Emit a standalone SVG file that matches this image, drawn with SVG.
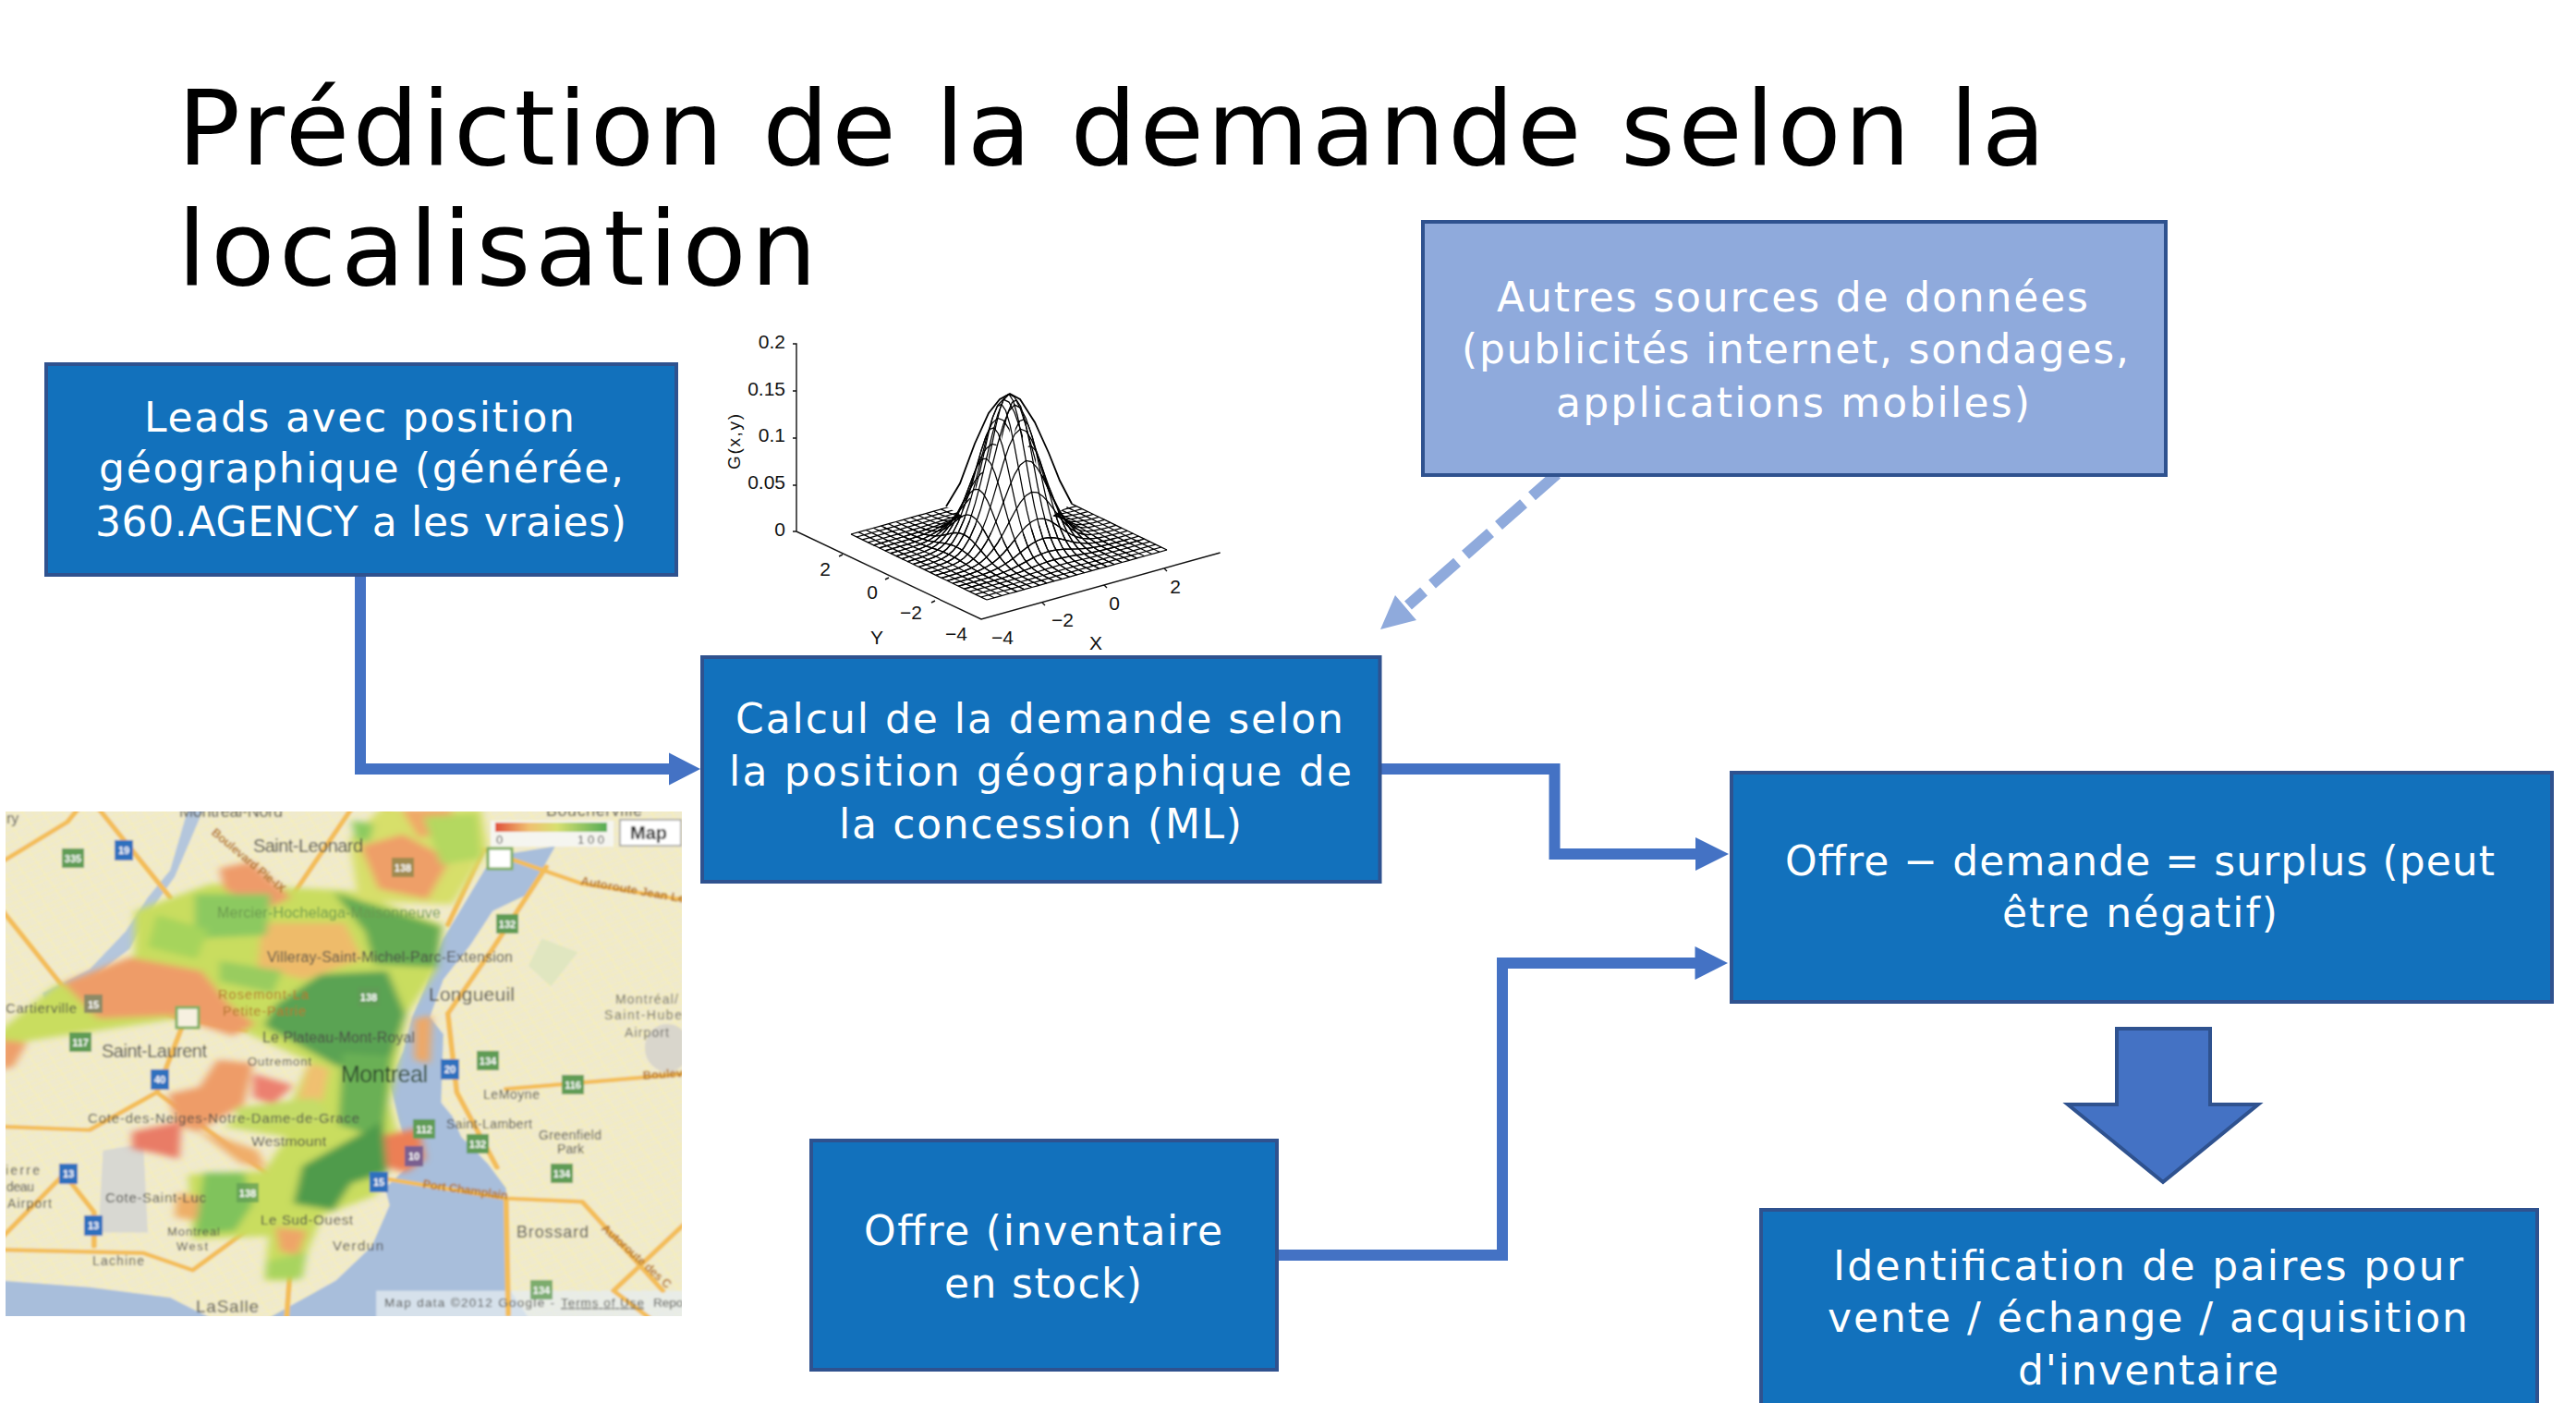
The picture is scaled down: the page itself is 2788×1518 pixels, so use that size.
<svg xmlns="http://www.w3.org/2000/svg" width="2788" height="1518" viewBox="0 0 2788 1518">
<style>
text{font-family:"DejaVu Sans","Noto Sans",sans-serif}
.t{font-size:113px;fill:#000}
.l{font-size:44px;fill:#fff}
.b{fill:#1271bc;stroke:#2f528f;stroke-width:4}
.b2{fill:#8faadc;stroke:#2f528f;stroke-width:4}
.c{fill:none;stroke:#4472c4;stroke-width:12}
.h{fill:#4472c4}
.ax{fill:none;stroke:#111;stroke-width:1.4}
.g text{font-family:"Liberation Sans",Arial,sans-serif}
.n{font-size:21px;fill:#111}
.me{fill:none;stroke:#000;stroke-width:1.25;vector-effect:non-scaling-stroke}
.ml text,text.ml{font-family:"Liberation Sans",Arial,sans-serif;fill:#4c4c48}
.gt{fill:#6c9a50!important}
.or{fill:#b5762a!important;font-weight:bold}
.sg{fill:#5f9c55}
.sb{fill:#2f6fbe}
.sn{font-size:11px;font-weight:bold;fill:#fff!important;text-anchor:middle}
.rd{fill:none;stroke:#f3bd58;stroke-linecap:round;stroke-linejoin:round}
</style>
<defs>
<filter id="bl" x="-5%" y="-5%" width="110%" height="110%"><feGaussianBlur stdDeviation="9"/></filter>
<filter id="bs" x="-2%" y="-2%" width="104%" height="104%"><feGaussianBlur stdDeviation="0.9"/></filter>
<clipPath id="mc"><rect x="6" y="878" width="732" height="546"/></clipPath>
<linearGradient id="lg"><stop offset="0" stop-color="#e0503a"/><stop offset=".3" stop-color="#f0c070"/><stop offset=".55" stop-color="#d8e070"/><stop offset="1" stop-color="#55ac55"/></linearGradient>
<pattern id="gr" width="40" height="40" patternUnits="userSpaceOnUse" patternTransform="rotate(-28)"><path d="M0 0H40M0 14H40M0 27H40M0 0V40M20 0V40" stroke="#f7efae" stroke-width="2.5" fill="none"/></pattern>
<path id="bp" class="me" d="M-1 .0003L-.875 .0022-.75 .0111-.6875 .0228-.625 .0439-.5625 .0796-.5 .1353-.4375 .2163-.375 .3247-.3125 .4578-.25 .6065-.1875 .7548-.125 .8825-.0625 .9692 0 1 .0625 .9692 .125 .8825 .1875 .7548 .25 .6065 .3125 .4578 .375 .3247 .4375 .2163 .5 .1353 .5625 .0796 .625 .0439 .6875 .0228 .75 .0111 .875 .0022 1 .0003"/>
<clipPath id="cm8"><rect x="-1.01" y="-5000" width="1.977" height="10000"/></clipPath>
<clipPath id="cm7"><rect x="-1.01" y="-5000" width="1.893" height="10000"/></clipPath>
<clipPath id="cm6"><rect x="-1.01" y="-5000" width="1.81" height="10000"/></clipPath>
<clipPath id="cm5"><rect x="-1.01" y="-5000" width="1.727" height="10000"/></clipPath>
<clipPath id="cm4"><rect x="-1.01" y="-5000" width="1.643" height="10000"/></clipPath>
<clipPath id="cm3"><rect x="-1.01" y="-5000" width="1.56" height="10000"/></clipPath>
<clipPath id="cm2"><rect x="-1.01" y="-5000" width="1.477" height="10000"/></clipPath>
<clipPath id="cm1"><rect x="-1.01" y="-5000" width="1.393" height="10000"/></clipPath>
<clipPath id="c0"><rect x="-1.01" y="-5000" width="1.31" height="10000"/></clipPath>
<clipPath id="c1"><rect x="-1.01" y="-5000" width="1.227" height="10000"/></clipPath>
<clipPath id="c2"><rect x="-1.01" y="-5000" width="1.143" height="10000"/></clipPath>
<clipPath id="c3"><rect x="-1.01" y="-5000" width="1.06" height="10000"/></clipPath>
<clipPath id="c4"><rect x="-1.01" y="-5000" width=".977" height="10000"/></clipPath>
<clipPath id="c5"><rect x="-1.01" y="-5000" width=".893" height="10000"/></clipPath>
<clipPath id="c6"><rect x="-1.01" y="-5000" width=".81" height="10000"/></clipPath>
<clipPath id="c7"><rect x="-1.01" y="-5000" width=".727" height="10000"/></clipPath>
<clipPath id="c8"><rect x="-1.01" y="-5000" width=".643" height="10000"/></clipPath>
</defs>
<rect width="2788" height="1518" fill="#fff"/>

<g id="title">
<text class="t" x="192" y="178" textLength="2022" lengthAdjust="spacing">Prédiction de la demande selon la</text>
<text class="t" x="192" y="308" textLength="692" lengthAdjust="spacing">localisation</text>
</g>

<g id="map" clip-path="url(#mc)">
<g filter="url(#bs)">
<g transform="translate(0 860) scale(.4847 .37)">
<rect x="0" y="40" width="1540" height="1500" fill="#efe9d0"/>
<rect x="0" y="40" width="1540" height="1500" fill="url(#gr)"/>
<ellipse cx="1490" cy="740" rx="50" ry="70" fill="#d9d6cc"/>
<path d="M230 1040L320 1020 330 1280 220 1280Z" fill="#d8d8d2"/>
<path d="M1210 420L1290 460 1230 560 1180 500Z" fill="#e0e6c0"/>
<path d="M1100 180L1240 150 1180 290 1100 340 1050 440 990 540 960 650 990 700 985 900 1010 940 1030 1000 1090 1080 1130 1150 1135 1440 1180 1530 600 1530 750 1420 830 1320 870 1200 860 1150 900 1100 920 1080 890 950 870 840 900 750 920 650 950 560 990 420Z" fill="#a8bedb"/>
<path d="M420 40L455 40 390 240 330 350 290 450 210 530 100 600 95 580 200 510 280 400 330 300 380 220Z" fill="#b4c6dc"/>
<path d="M0 1420L200 1440 380 1470 470 1530 0 1530Z" fill="#a8bedb"/>
<rect x="840" y="1450" width="700" height="80" fill="#e6ecf0" opacity=".75"/>
<g class="rd" stroke-width="12">
<path d="M12 190L150 80 175 40"/>
<path d="M220 40L380 300"/>
<path d="M785 40L650 300 460 500 400 700 350 870 660 1170 430 1390 320 1340 0 1330"/>
<path d="M0 330L140 560 390 650 550 690"/>
<path d="M850 40L1080 160 1300 260 1540 310"/>
<path d="M1080 160L1000 380"/>
<path d="M0 720L150 590"/>
<path d="M350 870L200 980 0 970"/>
<path d="M150 1120L210 1220 210 1320"/>
<path d="M150 1100L0 1300"/>
<path d="M800 1110L1130 1180 1300 1190 1480 1450"/>
<path d="M1130 1180L1135 1520"/>
<path d="M1000 640L1020 870 1110 1090"/>
<path d="M1130 860L1540 815"/>
<path d="M1540 1240L1370 1450 1450 1530"/>
<path d="M1220 210L1100 450 1000 640"/>
<path d="M640 1530L660 1170"/>
</g>
<g filter="url(#bl)">
<path d="M300 340L470 260 780 280 990 380 975 510 910 640 870 900 890 1000 840 1170 720 1230 660 1420 590 1420 600 1290 430 1300 420 1110 590 1100 640 1000 500 970 560 920 650 900 690 780 540 690 420 650 60 720 0 760 0 690 120 560 300 470Z" fill="#c9dd5e"/>
<path d="M850 40L1075 40 1090 160 1010 320 800 310 780 130Z" fill="#d7df6a"/>
<path d="M585 375L770 375 810 480 680 540 575 505Z" fill="#eebb6a"/>
<path d="M140 550L290 475 450 515 510 610 570 670 520 705 380 645 220 655Z" fill="#ee9c68"/>
<path d="M0 715L60 725 30 795 0 805Z" fill="#ee9f6a"/>
<path d="M490 215L560 195 650 300 590 335 500 275Z" fill="#ee9b6a"/>
<path d="M805 150L900 115 1005 190 955 305 845 275Z" fill="#ee9f68"/>
<path d="M895 40L1005 40 1025 105 935 125Z" fill="#f0a868"/>
<path d="M485 775L565 785 545 905 440 985 395 965 375 875 445 855Z" fill="#ee9c68"/>
<path d="M435 975L575 1040 595 1095 535 1075Z" fill="#f0ad6a"/>
<path d="M565 815L655 850 610 905 565 885Z" fill="#ec8070"/>
<path d="M690 785L735 800 720 895 665 895Z" fill="#f0c070"/>
<path d="M295 985L405 955 400 1065 340 1045 295 1035Z" fill="#e97c66"/>
<path d="M855 995L935 975 950 1065 905 1105 855 1085Z" fill="#ec7f55"/>
<path d="M925 655L965 645 960 785 925 775Z" fill="#eda868"/>
<path d="M395 1165L455 1175 445 1245 390 1235Z" fill="#eeaf68"/>
<path d="M615 1265L685 1275 665 1345 625 1335Z" fill="#eea568"/>
<path d="M435 290L605 290 595 410 435 420Z" fill="#8cc960"/>
<path d="M350 350L465 395 440 480 330 445Z" fill="#a6d45c"/>
<path d="M745 285L985 385 975 505 835 495 815 400Z" fill="#65ab52"/>
<path d="M490 485L630 515 610 580 490 545Z" fill="#99cc5e"/>
<path d="M715 525L865 515 905 640 875 765 755 795 590 675 615 615Z" fill="#5aa352"/>
<path d="M765 755L875 765 855 1005 755 965Z" fill="#6bb054"/>
<path d="M675 1085L855 955 865 1105 785 1135 745 1215 655 1195Z" fill="#4f9b4c"/>
<path d="M455 1105L545 1105 565 1195 525 1275 435 1285Z" fill="#80c35c"/>
<path d="M595 1365L685 1335 675 1415 595 1415Z" fill="#a8d45e"/>
<path d="M525 915L705 885 745 955 535 975Z" fill="#c5dc68"/>
<path d="M785 75L835 85 825 135 795 135Z" fill="#8ccb60"/>
<path d="M945 65L1065 55 1075 185 985 205Z" fill="#b4d860"/>
</g>
</g>
<g class="ml">
<g font-size="18"><text x="194" y="884" textLength="112">Montreal-Nord</text><text x="591" y="883" textLength="104">Boucherville</text></g>
<text x="7" y="891" font-size="16">ry</text>
<text x="274" y="922" font-size="20" textLength="119">Saint-Leonard</text>
<text class="or" transform="translate(228 902) rotate(40)" font-size="13" textLength="100">Boulevard Pie-IX</text>
<text class="gt" x="235" y="993" font-size="16" textLength="242">Mercier-Hochelaga-Maisonneuve</text>
<text x="289" y="1041" font-size="16" textLength="266">Villeray-Saint-Michel-Parc-Extension</text>
<text class="or" x="236" y="1081" font-size="14.5" textLength="98" style="font-weight:normal">Rosemont-La</text>
<text class="or" x="241" y="1099" font-size="14.5" textLength="90" style="font-weight:normal">Petite-Patrie</text>
<text x="464" y="1083" font-size="21" textLength="93">Longueuil</text>
<text x="6" y="1096" font-size="15" textLength="77">Cartierville</text>
<text x="110" y="1144" font-size="20" textLength="114">Saint-Laurent</text>
<text x="284" y="1128" font-size="16" textLength="165">Le Plateau-Mont-Royal</text>
<text x="268" y="1153" font-size="13" textLength="69">Outremont</text>
<text x="369" y="1171" font-size="25" textLength="94" style="fill:#2f4a2f">Montreal</text>
<text x="666" y="1086" font-size="14" textLength="68" opacity=".8">Montréal/</text>
<text x="654" y="1103" font-size="14" textLength="84" opacity=".8">Saint-Hube</text>
<text x="676" y="1122" font-size="14" textLength="48" opacity=".8">Airport</text>
<text x="95" y="1215" font-size="15" textLength="294">Cote-des-Neiges-Notre-Dame-de-Grace</text>
<text x="523" y="1189" font-size="14" textLength="61">LeMoyne</text>
<text x="483" y="1221" font-size="14" textLength="93">Saint-Lambert</text>
<text x="583" y="1233" font-size="14" textLength="68">Greenfield</text>
<text x="603" y="1248" font-size="14" textLength="29">Park</text>
<text x="272" y="1240" font-size="15.5" textLength="81">Westmount</text>
<text x="6" y="1271" font-size="14" textLength="37">ierre</text>
<text x="7" y="1289" font-size="14" textLength="30">deau</text>
<text x="8" y="1307" font-size="14" textLength="48">Airport</text>
<text x="114" y="1301" font-size="15" textLength="109">Cote-Saint-Luc</text>
<text x="282" y="1325" font-size="15" textLength="100">Le Sud-Ouest</text>
<text x="181" y="1337" font-size="13" textLength="57">Montreal</text>
<text x="191" y="1353" font-size="13" textLength="34">West</text>
<text x="360" y="1353" font-size="15" textLength="55">Verdun</text>
<text x="100" y="1369" font-size="14" textLength="56">Lachine</text>
<text x="212" y="1420" font-size="19" textLength="68">LaSalle</text>
<text x="559" y="1339" font-size="18" textLength="78">Brossard</text>
<text class="or" transform="translate(628 957) rotate(10)" font-size="13">Autoroute Jean Le</text>
<text class="or" transform="translate(457 1285) rotate(8)" font-size="13" textLength="93">Port Champlain</text>
<text class="or" transform="translate(650 1330) rotate(42)" font-size="13" textLength="97">Autoroute des C</text>
<text class="or" transform="translate(696 1168) rotate(-4)" font-size="13">Boulev</text>
<text x="416" y="1414" font-size="13.5" textLength="184">Map data ©2012 Google -</text>
<text x="607" y="1414" font-size="13.5" textLength="90" text-decoration="underline">Terms of Use</text>
<text x="707" y="1414" font-size="13.5">Repo</text>
</g>
<g id="shields">
<rect class="sg" x="67" y="918" width="24" height="21"/><text class="ml sn" x="79" y="933">335</text>
<rect class="sg" x="537" y="989" width="24" height="21"/><text class="ml sn" x="549" y="1004">132</text>
<rect class="sg" x="387" y="1068" width="24" height="21"/><text class="ml sn" x="399" y="1083">138</text>
<rect class="sg" x="75" y="1117" width="24" height="21"/><text class="ml sn" x="87" y="1132">117</text>
<rect fill="#8d8a66" x="91" y="1076" width="20" height="20"/><text class="ml sn" x="101" y="1091">15</text>
<rect class="sg" x="516" y="1137" width="24" height="21"/><text class="ml sn" x="528" y="1152">134</text>
<rect class="sg" x="608" y="1163" width="24" height="21"/><text class="ml sn" x="620" y="1178">116</text>
<rect class="sg" x="447" y="1211" width="24" height="21"/><text class="ml sn" x="459" y="1226">112</text>
<rect class="sg" x="505" y="1227" width="24" height="21"/><text class="ml sn" x="517" y="1242">132</text>
<rect class="sg" x="596" y="1259" width="24" height="21"/><text class="ml sn" x="608" y="1274">134</text>
<rect class="sg" x="256" y="1280" width="24" height="21" opacity=".75"/><text class="ml sn" x="268" y="1295">138</text>
<rect class="sg" x="574" y="1385" width="24" height="21" opacity=".8"/><text class="ml sn" x="586" y="1400">134</text>
<rect fill="#a08a50" x="424" y="928" width="24" height="21"/><text class="ml sn" x="436" y="943">138</text>
<rect class="sb" x="124" y="909" width="20" height="22"/><text class="ml sn" x="134" y="924">19</text>
<rect class="sb" x="163" y="1157" width="20" height="22"/><text class="ml sn" x="173" y="1172">40</text>
<rect class="sb" x="477" y="1146" width="20" height="22"/><text class="ml sn" x="487" y="1161">20</text>
<rect class="sb" x="64" y="1259" width="20" height="22"/><text class="ml sn" x="74" y="1274">13</text>
<rect class="sb" x="91" y="1315" width="20" height="22"/><text class="ml sn" x="101" y="1330">13</text>
<rect class="sb" x="400" y="1268" width="20" height="22"/><text class="ml sn" x="410" y="1283">15</text>
<rect fill="#7a5f90" x="438" y="1240" width="20" height="22"/><text class="ml sn" x="448" y="1255">10</text>
<rect x="528" y="918" width="26" height="22" fill="#fff" stroke="#7fae60" stroke-width="3"/>
<rect x="191" y="1090" width="24" height="22" fill="#f6f0e0" stroke="#7fae60" stroke-width="3"/>
</g>
<g id="legend">
<rect x="531" y="888" width="133" height="28" fill="#f5f6f4" opacity=".9"/>
<rect x="536" y="890" width="121" height="10" fill="url(#lg)"/>
<text class="ml" x="537" y="913" font-size="13">0</text>
<text class="ml" x="625" y="913" font-size="13" textLength="29">100</text>
<rect x="671" y="887" width="66" height="28" fill="#fff" stroke="#999" stroke-width="1.5"/>
<text class="ml" x="682" y="908" font-size="20" font-weight="bold" textLength="40" style="fill:#222">Map</text>
</g>
</g>
</g>

<g id="gaussian-plot" class="g">
<path class="ax" d="M858 372H862V575M858 423H862M858 474H862M858 525H862M858 575H862L1062 670 1320.600 598M912 600L908 602M962 625L958 627M1012 650L1008 652M1128 652L1131 655M1195 633L1198 636M1260 615L1263 618"/>
<g id="mesh-all">
<use href="#bp" transform="matrix(97.5 -27 0 -.05 1165.5 622)"/><use href="#bp" transform="matrix(97.5 -27 0 -.2 1159.4 619)"/><use href="#bp" transform="matrix(97.5 -27 0 -.6 1153.3 616.1)"/><use href="#bp" transform="matrix(97.5 -27 0 -1.8 1147.1 613.1)"/><use href="#bp" transform="matrix(97.5 -27 0 -4.6 1141 610.2)"/><use href="#bp" transform="matrix(97.5 -27 0 -10.5 1134.9 607.2)"/><use href="#bp" transform="matrix(97.5 -27 0 -21.6 1128.8 604.2)"/><use href="#bp" transform="matrix(97.5 -27 0 -39.8 1122.6 601.3)"/><use href="#bp" transform="matrix(97.5 -27 0 -65.8 1116.5 598.3)"/><use href="#bp" transform="matrix(97.5 -27 0 -97.1 1110.4 595.4)"/><use href="#bp" transform="matrix(97.5 -27 0 -128.2 1104.3 592.4)"/><use href="#bp" transform="matrix(97.5 -27 0 -151.4 1098.1 589.5)"/><use href="#bp" transform="matrix(97.5 -27 0 -160 1092 586.5)"/><use href="#bp" transform="matrix(97.5 -27 0 -151.4 1085.9 583.5)"/><use href="#bp" transform="matrix(97.5 -27 0 -128.2 1079.8 580.6)"/><use href="#bp" transform="matrix(97.5 -27 0 -97.1 1073.6 577.6)"/><use href="#bp" transform="matrix(97.5 -27 0 -65.8 1067.5 574.7)"/><use href="#bp" transform="matrix(97.5 -27 0 -39.8 1061.4 571.7)"/><use href="#bp" transform="matrix(97.5 -27 0 -21.6 1055.3 568.8)"/><use href="#bp" transform="matrix(97.5 -27 0 -10.5 1049.1 565.8)"/><use href="#bp" transform="matrix(97.5 -27 0 -4.6 1043 562.8)"/><use href="#bp" transform="matrix(97.5 -27 0 -1.8 1036.9 559.9)"/><use href="#bp" transform="matrix(97.5 -27 0 -.6 1030.8 556.9)"/><use href="#bp" transform="matrix(97.5 -27 0 -.2 1024.6 554)"/><use href="#bp" transform="matrix(97.5 -27 0 -.05 1018.5 551)"/>
<use href="#bp" transform="matrix(-73.5 -35.5 0 -.05 994.5 613.5)"/><use href="#bp" transform="matrix(-73.5 -35.5 0 -.2 1002.6 611.25)"/><use href="#bp" transform="matrix(-73.5 -35.5 0 -.6 1010.75 609)"/><use href="#bp" transform="matrix(-73.5 -35.5 0 -1.8 1018.9 606.75)"/><use href="#bp" transform="matrix(-73.5 -35.5 0 -4.6 1027 604.5)"/><use href="#bp" transform="matrix(-73.5 -35.5 0 -10.5 1035.1 602.25)"/><use href="#bp" transform="matrix(-73.5 -35.5 0 -21.6 1043.25 600)"/><use href="#bp" transform="matrix(-73.5 -35.5 0 -39.8 1051.4 597.75)"/><use href="#bp" transform="matrix(-73.5 -35.5 0 -65.8 1059.5 595.5)"/><use href="#bp" transform="matrix(-73.5 -35.5 0 -97.1 1067.6 593.25)"/><use href="#bp" transform="matrix(-73.5 -35.5 0 -128.2 1075.75 591)"/><use href="#bp" transform="matrix(-73.5 -35.5 0 -151.4 1083.9 588.75)"/><use href="#bp" transform="matrix(-73.5 -35.5 0 -160 1092 586.5)"/><use href="#bp" transform="matrix(-73.5 -35.5 0 -151.4 1100.1 584.25)"/><use href="#bp" transform="matrix(-73.5 -35.5 0 -128.2 1108.25 582)"/><use href="#bp" transform="matrix(-73.5 -35.5 0 -97.1 1116.4 579.75)"/><use href="#bp" transform="matrix(-73.5 -35.5 0 -65.8 1124.5 577.5)"/><use href="#bp" transform="matrix(-73.5 -35.5 0 -39.8 1132.6 575.25)"/><use href="#bp" transform="matrix(-73.5 -35.5 0 -21.6 1140.75 573)"/><use href="#bp" transform="matrix(-73.5 -35.5 0 -10.5 1148.9 570.75)"/><use href="#bp" transform="matrix(-73.5 -35.5 0 -4.6 1157 568.5)"/><use href="#bp" transform="matrix(-73.5 -35.5 0 -1.8 1165.1 566.25)"/><use href="#bp" transform="matrix(-73.5 -35.5 0 -.6 1173.25 564)"/><use href="#bp" transform="matrix(-73.5 -35.5 0 -.2 1181.4 561.75)"/><use href="#bp" transform="matrix(-73.5 -35.5 0 -.05 1189.5 559.5)"/>
</g>
<path fill="#fff" d="M1024 548L1039 523 1055 480 1070 447 1082 432 1093 426 1104 432 1120 457 1135 490 1147 520 1160 545 1092 588Z"/>
<path fill="none" stroke="#000" stroke-width="1.8" d="M1024 548L1039 523 1055 480 1070 447 1082 432 1093 426 1104 432 1120 457 1135 490 1147 520 1160 545"/>
<g id="mesh-front">
<use href="#bp" clip-path="url(#cm8)" transform="matrix(97.5 -27 0 -4.6 1141 610.2)"/><use href="#bp" clip-path="url(#cm7)" transform="matrix(97.5 -27 0 -10.5 1134.9 607.2)"/><use href="#bp" clip-path="url(#cm6)" transform="matrix(97.5 -27 0 -21.6 1128.8 604.2)"/><use href="#bp" clip-path="url(#cm5)" transform="matrix(97.5 -27 0 -39.8 1122.6 601.3)"/><use href="#bp" clip-path="url(#cm4)" transform="matrix(97.5 -27 0 -65.8 1116.5 598.3)"/><use href="#bp" clip-path="url(#cm3)" transform="matrix(97.5 -27 0 -97.1 1110.4 595.4)"/><use href="#bp" clip-path="url(#cm2)" transform="matrix(97.5 -27 0 -128.2 1104.3 592.4)"/><use href="#bp" clip-path="url(#cm1)" transform="matrix(97.5 -27 0 -151.4 1098.1 589.5)"/><use href="#bp" clip-path="url(#c0)" transform="matrix(97.5 -27 0 -160 1092 586.5)"/><use href="#bp" clip-path="url(#c1)" transform="matrix(97.5 -27 0 -151.4 1085.9 583.5)"/><use href="#bp" clip-path="url(#c2)" transform="matrix(97.5 -27 0 -128.2 1079.8 580.6)"/><use href="#bp" clip-path="url(#c3)" transform="matrix(97.5 -27 0 -97.1 1073.6 577.6)"/><use href="#bp" clip-path="url(#c4)" transform="matrix(97.5 -27 0 -65.8 1067.5 574.7)"/><use href="#bp" clip-path="url(#c5)" transform="matrix(97.5 -27 0 -39.8 1061.4 571.7)"/><use href="#bp" clip-path="url(#c6)" transform="matrix(97.5 -27 0 -21.6 1055.3 568.8)"/><use href="#bp" clip-path="url(#c7)" transform="matrix(97.5 -27 0 -10.5 1049.1 565.8)"/><use href="#bp" clip-path="url(#c8)" transform="matrix(97.5 -27 0 -4.6 1043 562.8)"/>
<use href="#bp" clip-path="url(#cm8)" transform="matrix(-73.5 -35.5 0 -4.6 1027 604.5)"/><use href="#bp" clip-path="url(#cm7)" transform="matrix(-73.5 -35.5 0 -10.5 1035.1 602.25)"/><use href="#bp" clip-path="url(#cm6)" transform="matrix(-73.5 -35.5 0 -21.6 1043.25 600)"/><use href="#bp" clip-path="url(#cm5)" transform="matrix(-73.5 -35.5 0 -39.8 1051.4 597.75)"/><use href="#bp" clip-path="url(#cm4)" transform="matrix(-73.5 -35.5 0 -65.8 1059.5 595.5)"/><use href="#bp" clip-path="url(#cm3)" transform="matrix(-73.5 -35.5 0 -97.1 1067.6 593.25)"/><use href="#bp" clip-path="url(#cm2)" transform="matrix(-73.5 -35.5 0 -128.2 1075.75 591)"/><use href="#bp" clip-path="url(#cm1)" transform="matrix(-73.5 -35.5 0 -151.4 1083.9 588.75)"/><use href="#bp" clip-path="url(#c0)" transform="matrix(-73.5 -35.5 0 -160 1092 586.5)"/><use href="#bp" clip-path="url(#c1)" transform="matrix(-73.5 -35.5 0 -151.4 1100.1 584.25)"/><use href="#bp" clip-path="url(#c2)" transform="matrix(-73.5 -35.5 0 -128.2 1108.25 582)"/><use href="#bp" clip-path="url(#c3)" transform="matrix(-73.5 -35.5 0 -97.1 1116.4 579.75)"/><use href="#bp" clip-path="url(#c4)" transform="matrix(-73.5 -35.5 0 -65.8 1124.5 577.5)"/><use href="#bp" clip-path="url(#c5)" transform="matrix(-73.5 -35.5 0 -39.8 1132.6 575.25)"/><use href="#bp" clip-path="url(#c6)" transform="matrix(-73.5 -35.5 0 -21.6 1140.75 573)"/><use href="#bp" clip-path="url(#c7)" transform="matrix(-73.5 -35.5 0 -10.5 1148.9 570.75)"/><use href="#bp" clip-path="url(#c8)" transform="matrix(-73.5 -35.5 0 -4.6 1157 568.5)"/>
</g>
<g class="n">
<g text-anchor="end"><text x="850" y="377">0.2</text><text x="850" y="428">0.15</text><text x="850" y="478">0.1</text><text x="850" y="529">0.05</text><text x="850" y="580">0</text></g>
<text transform="translate(801 508) rotate(-90)" textLength="60" font-size="19">G(x,y)</text>
<g text-anchor="middle"><text x="893" y="623">2</text><text x="944" y="648">0</text><text x="986" y="670">−2</text><text x="949" y="697">Y</text><text x="1035" y="693">−4</text><text x="1085" y="697">−4</text><text x="1150" y="678">−2</text><text x="1206" y="660">0</text><text x="1272" y="642">2</text><text x="1186" y="703">X</text></g>
</g>
</g>

<g id="connectors">
<path class="c" d="M390 620V832H726"/>
<path class="h" d="M724 814.500L758 832 724 849.500Z"/>
<path class="c" d="M1491 832H1682.500V924H1837"/>
<path class="h" d="M1835 906L1871 924 1835 942Z"/>
<path class="c" d="M1382 1358H1626V1042H1837"/>
<path class="h" d="M1834.500 1024L1870 1042 1834.500 1060Z"/>
<path d="M1685 513L1524 655" fill="none" stroke="#8faadc" stroke-width="12" stroke-dasharray="36 12"/>
<path d="M1494 681L1510 644 1533 671Z" fill="#8faadc"/>
</g>

<g id="node-leads"><rect class="b" x="50" y="394" width="682" height="228"/>
<text class="l" x="156" y="467" textLength="466">Leads avec position</text>
<text class="l" x="107" y="522" textLength="568">géographique (générée,</text>
<text class="l" x="103" y="580" textLength="575">360.AGENCY a les vraies)</text></g>

<g id="node-calcul"><rect class="b" x="760" y="711" width="733.500" height="243"/>
<text class="l" x="796" y="793" textLength="658">Calcul de la demande selon</text>
<text class="l" x="789" y="850" textLength="674">la position géographique de</text>
<text class="l" x="908" y="907" textLength="436">la concession (ML)</text></g>

<g id="node-autres"><rect class="b2" x="1540" y="240" width="804" height="274"/>
<text class="l" x="1620" y="337" textLength="640">Autres sources de données</text>
<text class="l" x="1582" y="393" textLength="722">(publicités internet, sondages,</text>
<text class="l" x="1684" y="451" textLength="513">applications mobiles)</text></g>

<g id="node-offre-demande"><rect class="b" x="1874" y="836" width="888" height="248"/>
<text class="l" x="1932" y="947" textLength="768">Offre − demande = surplus (peut</text>
<text class="l" x="2167" y="1003" textLength="298">être négatif)</text></g>

<g id="node-offre"><rect class="b" x="878" y="1234" width="504" height="248"/>
<text class="l" x="935" y="1347" textLength="388">Offre (inventaire</text>
<text class="l" x="1022" y="1404" textLength="214">en stock)</text></g>

<g id="node-arrow"><path d="M2291 1113H2392V1195H2444L2341 1279 2238 1195H2291Z" fill="#4472c4" stroke="#2f528f" stroke-width="4"/></g>

<g id="node-identification"><rect class="b" x="1906" y="1309" width="840" height="240"/>
<text class="l" x="1984" y="1385" textLength="682">Identification de paires pour</text>
<text class="l" x="1978" y="1441" textLength="693">vente / échange / acquisition</text>
<text class="l" x="2184" y="1498" textLength="282">d'inventaire</text></g>
</svg>
